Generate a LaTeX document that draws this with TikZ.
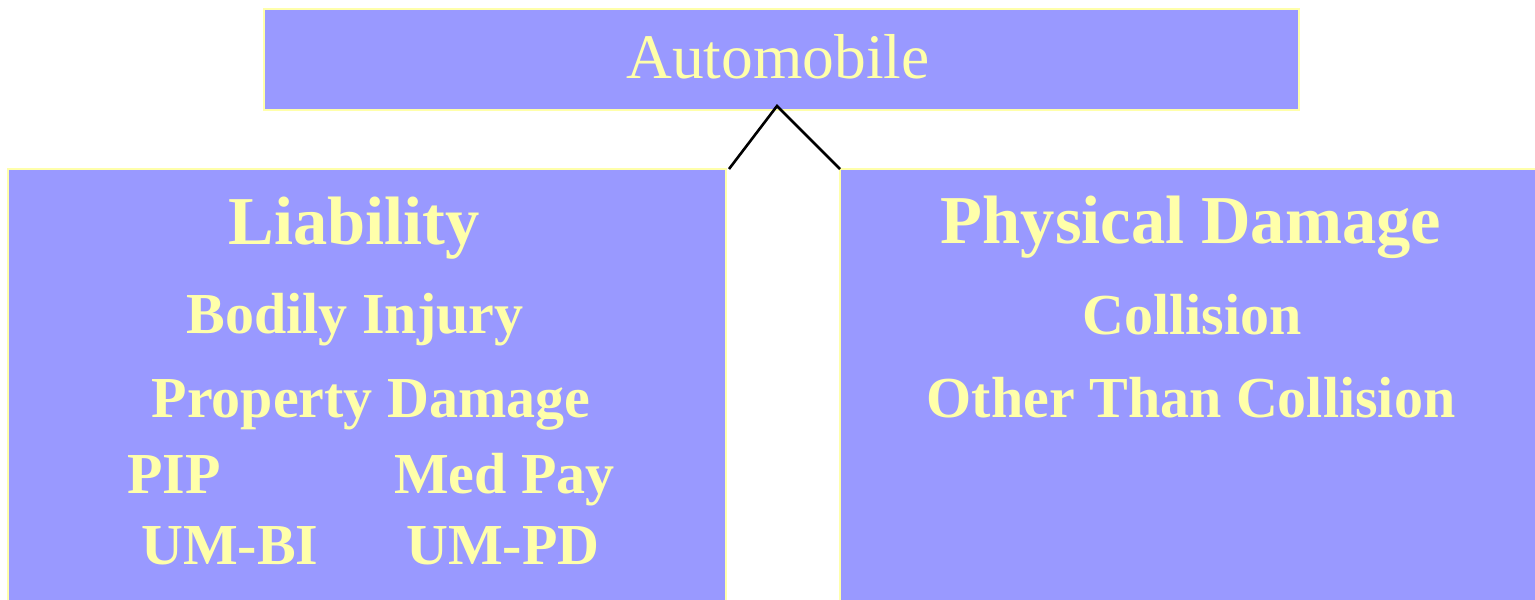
\documentclass[tikz,border=0pt]{standalone}
\usepackage{fontspec}
\setmainfont{Liberation Serif}
\definecolor{boxfill}{HTML}{9999FF}
\definecolor{paleyellow}{HTML}{FFFFAA}
\begin{document}
\begin{tikzpicture}[x=1pt,y=-1pt,
  panel/.style={draw=paleyellow,line width=1.5pt,fill=boxfill},
  bigtxt/.style={text=paleyellow,inner sep=0pt,anchor=base,font=\fontsize{68.5}{70}\selectfont\bfseries},
  smalltxt/.style={text=paleyellow,inner sep=0pt,anchor=base,font=\fontsize{58}{60}\selectfont\bfseries},
  toptxt/.style={text=paleyellow,inner sep=0pt,anchor=base,font=\fontsize{63.5}{65}\selectfont},
  link/.style={draw=black,line width=2.6pt}]
\useasboundingbox (0,0) rectangle (1535,600);
\clip (0,0) rectangle (1535,600);
\fill[white] (0,0) rectangle (1535,600);
% boxes
\draw[panel] (264,9) rectangle (1299,110);
\draw[panel] (8,169) rectangle (726,620);
\draw[panel] (840,169) rectangle (1560,620);
\coordinate (apex) at (777,106);
\coordinate (lend) at (729,169);
\coordinate (rend) at (840,169);
\draw[link] (lend) -- (apex) -- (rend);
% texts
\node[toptxt] (auto) at (778,78) {Automobile};
\node[bigtxt] (liab) at (354,244) {Liability};
\node[smalltxt] (bi) at (355,333) {Bodily Injury};
\node[smalltxt] (pd) at (371,417) {Property Damage};
\node[smalltxt,anchor=base west] (pip) at (127,493) {PIP};
\node[smalltxt,anchor=base west] (med) at (394,493) {Med Pay};
\node[smalltxt,anchor=base west] (umbi) at (141,564) {UM-BI};
\node[smalltxt,anchor=base west] (umpd) at (406,564) {UM-PD};
\node[bigtxt] (phys) at (1191,243) {Physical Damage};
\node[smalltxt] (coll) at (1192,334) {Collision};
\node[smalltxt] (otc) at (1191,417) {Other Than Collision};
\end{tikzpicture}
\end{document}
